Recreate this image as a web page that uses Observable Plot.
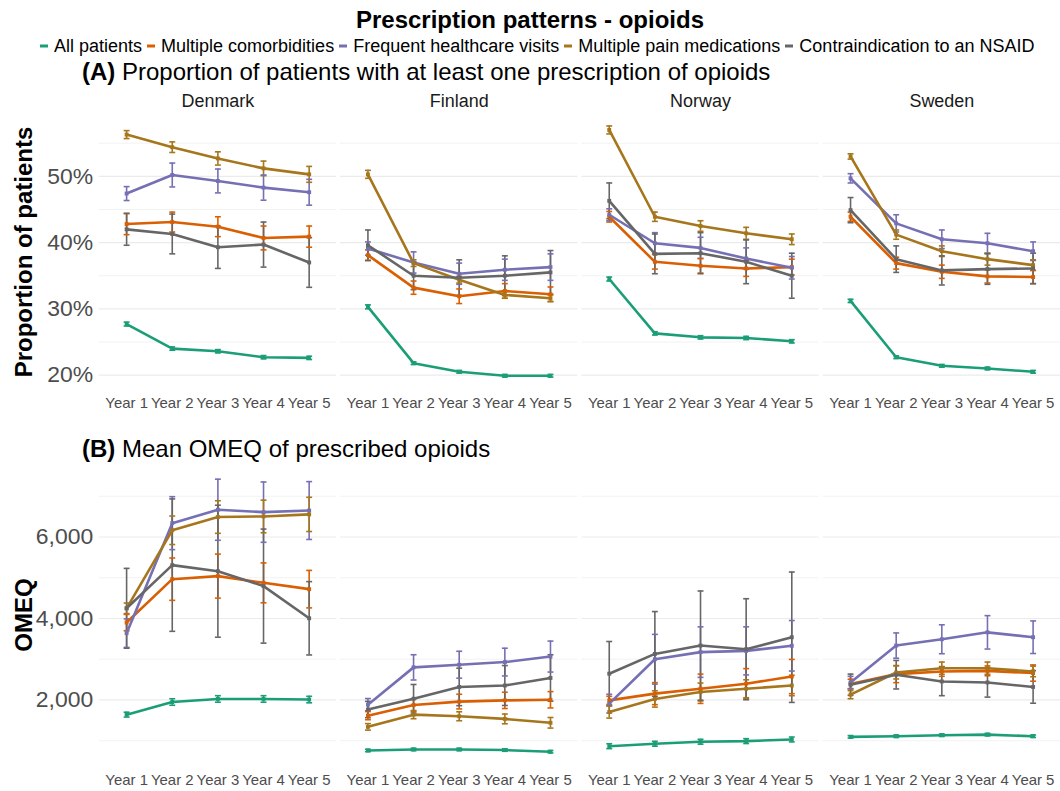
<!DOCTYPE html>
<html><head><meta charset="utf-8">
<script src="https://cdn.jsdelivr.net/npm/d3@7"></script>
<script src="https://cdn.jsdelivr.net/npm/@observablehq/plot@0.6"></script>
<style>
html,body{margin:0;padding:0;background:#fff;overflow:hidden;width:1060px;height:791px;}
body{position:relative;font-family:Arial,"Liberation Sans",sans-serif;color:#000;}
.abs{position:absolute;white-space:nowrap;line-height:1;}
.ylab{font-weight:bold;font-size:24px;transform:translate(-50%,-50%) rotate(-90deg);}
#legend{display:flex;align-items:center;font-size:18px;}
#legend .item{display:flex;align-items:center;margin-right:3px;}
#legend svg{margin-right:4px;}
</style></head><body>
<div class="abs" style="left:0;width:1060px;top:8px;text-align:center;font-weight:bold;font-size:24px;">Prescription patterns - opioids</div>
<div id="legend" class="abs" style="left:38px;top:37px;"></div>
<div class="abs" style="left:82px;top:60px;font-size:24px;"><b>(A)</b> Proportion of patients with at least one prescription of opioids</div>
<div id="chartA" class="abs" style="left:0;top:88px;"></div>
<div class="abs ylab" style="left:24px;top:252px;">Proportion of patients</div>
<div class="abs" style="left:82px;top:437px;font-size:24px;"><b>(B)</b> Mean OMEQ of prescribed opioids</div>
<div id="chartB" class="abs" style="left:0;top:455px;"></div>
<div class="abs ylab" style="left:24px;top:615px;">OMEQ</div>
<script>
const countries = ["Denmark", "Finland", "Norway", "Sweden"];
const years = ["Year 1", "Year 2", "Year 3", "Year 4", "Year 5"];
const groups = ["All patients", "Multiple comorbidities", "Frequent healthcare visits", "Multiple pain medications", "Contraindication to an NSAID"];
const colors = ["#1B9E77", "#D95F02", "#7570B3", "#A6761D", "#666666"];

// (A) proportion of patients (%), order: Denmark Y1-5, Finland Y1-5, Norway Y1-5, Sweden Y1-5
const propAll      = [27.7,24.0,23.6,22.7,22.6, 30.3,21.8,20.5,19.9,19.9, 34.5,26.3,25.7,25.6,25.1, 31.2,22.7,21.4,21.0,20.5];
const propAllErr   = [0.3,0.25,0.25,0.25,0.25, 0.3,0.2,0.2,0.2,0.2, 0.3,0.25,0.25,0.25,0.25, 0.25,0.2,0.2,0.2,0.2];
const propComorb   = [42.8,43.1,42.4,40.7,40.9, 38.1,33.2,31.9,32.7,32.2, 43.9,37.1,36.5,36.1,36.3, 43.9,36.9,35.6,34.9,34.8];
const propComorbErr= [1.6,1.5,1.5,1.8,1.6, 0.8,1.0,1.1,1.1,1.1, 0.8,1.1,1.1,1.2,1.2, 0.7,0.9,1.0,1.0,1.0];
const propVisits   = [47.4,50.2,49.3,48.3,47.6, 39.1,37.0,35.3,35.9,36.3, 44.2,39.9,39.2,37.6,36.2, 49.7,42.9,40.5,39.9,38.7];
const propVisitsErr= [1.05,1.8,1.8,1.9,1.95, 1.0,1.6,1.6,1.6,2.0, 0.9,1.6,1.6,1.6,1.7, 0.7,1.3,1.4,1.5,1.4];
const propPain     = [56.3,54.4,52.7,51.2,50.3, 50.3,36.9,34.4,32.1,31.6, 57.0,43.9,42.5,41.4,40.5, 53.0,41.2,38.7,37.5,36.6];
const propPainErr  = [0.6,0.8,1.0,1.1,1.2, 0.6,0.5,0.5,0.5,0.5, 0.6,0.7,0.8,0.9,0.8, 0.4,0.7,0.8,0.9,0.8];
const propNsaid    = [42.0,41.3,39.3,39.7,37.0, 39.6,35.0,34.7,35.0,35.5, 46.3,38.3,38.4,37.1,35.0, 44.9,37.5,35.8,36.0,36.1];
const propNsaidErr = [2.4,3.0,3.2,3.4,3.75, 2.3,2.1,2.7,3.0,3.3, 2.7,3.0,3.1,3.3,3.4, 1.9,2.0,2.2,2.3,2.3];

// (B) mean OMEQ
const omeqAll      = [1640,1950,2025,2025,2010, 760,785,785,770,730, 865,925,975,990,1030, 1095,1110,1135,1150,1110];
const omeqAllErr   = [60,80,80,80,80, 30,30,30,30,30, 60,60,60,60,60, 30,30,30,30,30];
const omeqComorb   = [3900,4965,5040,4875,4720, 1615,1875,1960,1990,2005, 1990,2155,2275,2400,2575, 2390,2635,2700,2715,2660];
const omeqComorbErr= [200,520,540,490,460, 100,150,180,200,200, 100,270,360,370,420, 120,210,120,120,200];
const omeqVisits   = [3640,6340,6670,6610,6650, 1885,2800,2865,2930,3065, 1910,3000,3175,3205,3330, 2430,3335,3490,3660,3540];
const omeqVisitsErr= [350,650,750,740,710, 150,310,330,340,380, 230,610,620,590,620, 150,310,355,410,400];
const omeqPain     = [4250,6165,6490,6505,6555, 1340,1640,1600,1535,1440, 1705,2025,2195,2275,2355, 2130,2675,2780,2780,2700];
const omeqPainErr  = [130,350,400,400,420, 80,100,110,120,130, 150,200,220,220,250, 100,160,150,150,130];
const omeqNsaid    = [4250,5310,5160,4795,4005, 1765,2030,2320,2355,2540, 2645,3130,3335,3245,3540, 2375,2620,2455,2430,2320];
const omeqNsaidErr = [980,1625,1620,1400,900, 200,350,460,490,570, 790,1040,1340,1240,1600, 260,350,350,360,400];

const propTicks = [20, 30, 40, 50], propMinor = [25, 35, 45, 55];
const omeqTicks = [2000, 4000, 6000], omeqMinor = [1000, 3000, 5000, 7000];

function buildRows(vals, errs) {
  const rows = [];
  groups.forEach((g, gi) => {
    countries.forEach((c, ci) => {
      years.forEach((y, yi) => {
        const k = ci * years.length + yi;
        const v = vals[gi][k], e = errs[gi][k];
        rows.push({group: g, country: c, year: yi + 1, value: v, lo: v - e, hi: v + e});
      });
    });
  });
  return rows;
}

const rowsA = buildRows([propAll, propComorb, propVisits, propPain, propNsaid],
                        [propAllErr, propComorbErr, propVisitsErr, propPainErr, propNsaidErr]);
const rowsB = buildRows([omeqAll, omeqComorb, omeqVisits, omeqPain, omeqNsaid],
                        [omeqAllErr, omeqComorbErr, omeqVisitsErr, omeqPainErr, omeqNsaidErr]);

const font = "Arial, 'Liberation Sans', sans-serif";

function chart({rows, ticks, minor, fmt, height, marginTop, marginBottom, facetLabels}) {
  const lo = d3.min(rows, d => d.lo), hi = d3.max(rows, d => d.hi);
  const pad = (hi - lo) * 0.05;
  const marks = [
    Plot.ruleY(minor, {stroke: "#F2F2F2", strokeWidth: 1}),
    Plot.ruleY(ticks, {stroke: "#EBEBEB", strokeWidth: 1.2}),
    Plot.axisX({ticks: [1, 2, 3, 4, 5], tickFormat: i => years[i - 1], tickSize: 0, tickPadding: 8, fontSize: 15, color: "#4D4D4D", label: null}),
    Plot.axisY({ticks, tickFormat: fmt, tickSize: 0, tickPadding: 6, fontSize: 23, color: "#4D4D4D", label: null}),
    Plot.ruleX(rows, {fx: "country", x: "year", y1: "lo", y2: "hi", stroke: "group", strokeWidth: 1.6}),
    Plot.link(rows, {fx: "country", x1: d => d.year - 0.065, x2: d => d.year + 0.065, y1: "lo", y2: "lo", stroke: "group", strokeWidth: 1.6}),
    Plot.link(rows, {fx: "country", x1: d => d.year - 0.065, x2: d => d.year + 0.065, y1: "hi", y2: "hi", stroke: "group", strokeWidth: 1.6}),
    Plot.line(rows, {fx: "country", x: "year", y: "value", z: "group", stroke: "group", strokeWidth: 2.6}),
    Plot.dot(rows, {fx: "country", x: "year", y: "value", fill: "group", symbol: "square", r: 2.2})
  ];
  if (facetLabels) marks.push(Plot.axisFx({anchor: "top", tickSize: 0, tickPadding: 6, fontSize: 18, color: "#1A1A1A", label: null}));
  return Plot.plot({
    width: 1063, height, marginLeft: 99, marginRight: 0, marginTop, marginBottom,
    style: {fontFamily: font, background: "transparent", overflow: "visible"},
    x: {domain: [0.4, 5.6], axis: null},
    y: {domain: [lo - pad, hi + pad], axis: null},
    fx: {domain: countries, paddingInner: 0.017, paddingOuter: 0, axis: null},
    color: {domain: groups, range: colors},
    marks
  });
}

document.getElementById("chartA").append(chart({
  rows: rowsA, ticks: propTicks, minor: propMinor, fmt: d => d + "%",
  height: 330, marginTop: 25, marginBottom: 28, facetLabels: true
}));
document.getElementById("chartB").append(chart({
  rows: rowsB, ticks: omeqTicks, minor: omeqMinor, fmt: d3.format(","),
  height: 336, marginTop: 10, marginBottom: 24, facetLabels: false
}));

const legend = document.getElementById("legend");
groups.forEach((g, i) => {
  const item = document.createElement("div");
  item.className = "item";
  item.innerHTML = `<svg width="12" height="10"><line x1="2" x2="10" y1="5" y2="5" stroke="${colors[i]}" stroke-width="3"/></svg><span>${g}</span>`;
  legend.append(item);
});
</script>
</body></html>
